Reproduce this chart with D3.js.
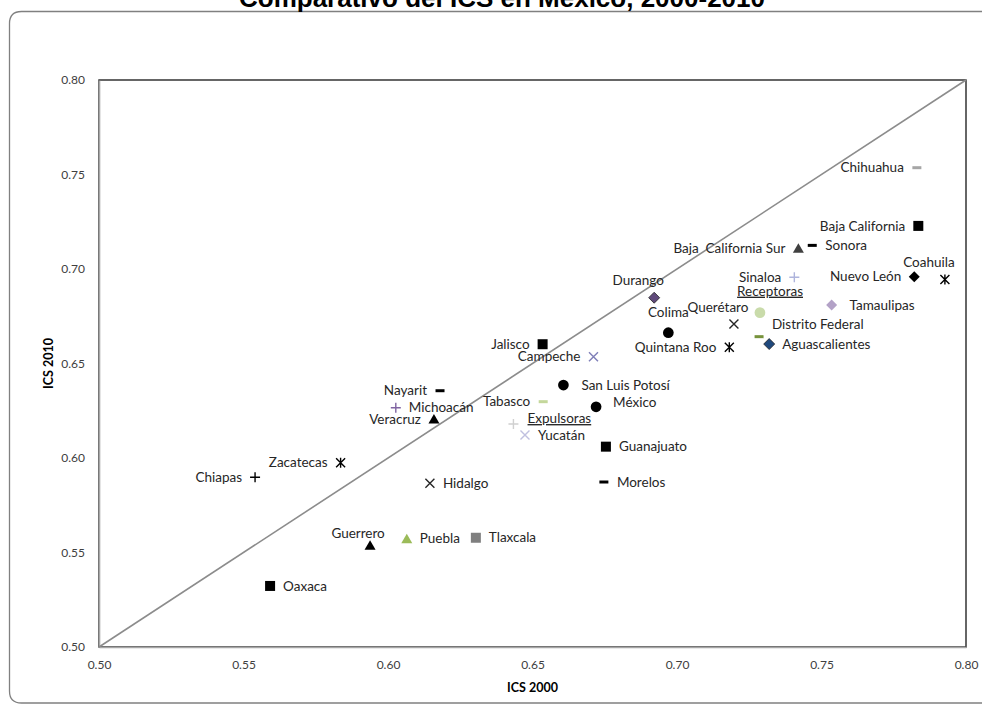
<!DOCTYPE html>
<html>
<head>
<meta charset="utf-8">
<script src="https://cdn.jsdelivr.net/npm/d3@7"></script>
<style>
  html, body { margin: 0; padding: 0; background: #fff; }
  svg { display: block; }
</style>
</head>
<body>
<div id="chart"></div>
<script>
// ---------- data ----------
const title = "Comparativo del ICS en México, 2000-2010";
const xTitle = "ICS 2000";
const yTitle = "ICS 2010";
const xTicks = [0.50, 0.55, 0.60, 0.65, 0.70, 0.75, 0.80];
const yTicks = [0.50, 0.55, 0.60, 0.65, 0.70, 0.75, 0.80];

const states = ["Chihuahua","Baja California","Baja  California Sur","Sonora","Coahuila","Nuevo León","Sinaloa","Tamaulipas",
  "Durango","Colima","Querétaro","Distrito Federal","","Quintana Roo","Aguascalientes","Jalisco","Campeche",
  "San Luis Potosí","México","Tabasco","Nayarit","Michoacán","Veracruz","","Yucatán","Guanajuato","Zacatecas",
  "Chiapas","Hidalgo","Morelos","Guerrero","Puebla","Tlaxcala","Oaxaca"];
const ics2000 = [0.7830,0.7835,0.7420,0.7468,0.7927,0.7821,0.7406,0.7535,
  0.6921,0.6970,0.7197,0.7287,0.7284,0.7181,0.7319,0.6535,0.6711,
  0.6607,0.6720,0.6537,0.6180,0.6027,0.6159,0.6434,0.6474,0.6754,0.5836,
  0.5540,0.6145,0.6747,0.5938,0.6065,0.6304,0.5592];
const ics2010 = [0.7536,0.7228,0.7110,0.7125,0.6945,0.6959,0.6956,0.6810,
  0.6848,0.6663,0.6709,0.6769,0.6642,0.6586,0.6603,0.6602,0.6536,
  0.6386,0.6271,0.6298,0.6356,0.6266,0.6206,0.6180,0.6122,0.6060,0.5975,
  0.5898,0.5866,0.5873,0.5538,0.5573,0.5578,0.5323];
const markerShapes = ["dash","square","triangle","dash","asterisk","diamond","plus","diamond",
  "diamond","circle","x","circle","dash","asterisk","diamond","square","x",
  "circle","circle","dash","dash","plus","triangle","plus","x","square","asterisk",
  "plus","x","dash","triangle","triangle","square","square"];
const markerColors = ["#a6a6a6","#000000","#404040","#000000","#000000","#000000","#aeb4dc","#b3a2c7",
  "#604a7b","#000000","#262626","#c9dbaa","#77933c","#000000","#1f497d","#000000","#7f7fb8",
  "#000000","#000000","#c4d79b","#000000","#8064a2","#000000","#d0d0d0","#c0c0e0","#000000","#000000",
  "#000000","#262626","#000000","#000000","#9bbb59","#7f7f7f","#000000"];
const labelPlacement = ["l","l","l","r","tl","l","l","r2",
  "tl","t","tl","br","","l","r","l","l",
  "r2","r2u","l","l","r","l","","r","r","l",
  "l","r","r","tls","r","r","r"];

const groupNames = ["Receptoras","Expulsoras"];
const groupX = [0.7322, 0.6593];
const groupY = [0.6884, 0.6210];

// ---------- layout ----------
const W = 982, H = 705;
const plot = {left: 99, right: 966, top: 80, bottom: 647};

const svg = d3.select("#chart").append("svg")
  .attr("width", W).attr("height", H)
  .attr("viewBox", `0 0 ${W} ${H}`);

// outer frame (rounded, extends past right edge)
const fx0 = 9.5, fy0 = 11.5, fx1 = 1000, fy1 = 703, r = 12;
svg.append("path")
  .attr("d", `M${fx1},${fy0} L${fx0 + r},${fy0} Q${fx0},${fy0} ${fx0},${fy0 + r} L${fx0},${fy1 - r} Q${fx0},${fy1} ${fx0 + r},${fy1} L${fx1},${fy1}`)
  .attr("fill", "none").attr("stroke", "#808080").attr("stroke-width", 1.3);

// title (partly cut off at the top, as in the reference)
svg.append("text")
  .attr("x", 502).attr("y", 6.5)
  .attr("text-anchor", "middle")
  .attr("font-family", "'Liberation Sans', Arial, sans-serif")
  .attr("font-weight", "bold")
  .attr("font-size", 26)
  .attr("fill", "#000")
  .text(title);

const x = d3.scaleLinear().domain([0.5, 0.8]).range([plot.left, plot.right]);
const y = d3.scaleLinear().domain([0.5, 0.8]).range([plot.bottom, plot.top]);

// plot area border
svg.append("rect")
  .attr("x", plot.left).attr("y", plot.top)
  .attr("width", plot.right - plot.left).attr("height", plot.bottom - plot.top)
  .attr("fill", "none").attr("stroke", "#262626").attr("stroke-width", 1.4);

const fontLabel = "Lato, 'Open Sans', sans-serif";

// axes
const xAxis = svg.append("g")
  .attr("transform", `translate(0,${plot.bottom})`)
  .call(d3.axisBottom(x).tickValues(xTicks).tickFormat(d3.format(".2f")).tickSize(0).tickPadding(13));
const yAxis = svg.append("g")
  .attr("transform", `translate(${plot.left},0)`)
  .call(d3.axisLeft(y).tickValues(yTicks).tickFormat(d3.format(".2f")).tickSize(0).tickPadding(14));
[xAxis, yAxis].forEach(g => {
  g.select(".domain").attr("stroke", "#a6a6a6").attr("stroke-width", 1.6);
  g.selectAll("text").attr("font-family", fontLabel).attr("font-size", 12).attr("fill", "#404040");
});

// axis titles
svg.append("text")
  .attr("x", (plot.left + plot.right) / 2).attr("y", 692)
  .attr("text-anchor", "middle")
  .attr("font-family", fontLabel).attr("font-weight", "bold").attr("font-size", 12.5)
  .attr("fill", "#000").text(xTitle);
svg.append("text")
  .attr("transform", `translate(53,${(plot.top + plot.bottom) / 2}) rotate(-90)`)
  .attr("text-anchor", "middle")
  .attr("font-family", fontLabel).attr("font-weight", "bold").attr("font-size", 12.5)
  .attr("fill", "#000").text(yTitle);

// 45-degree reference line
svg.append("line")
  .attr("x1", x(0.5)).attr("y1", y(0.5))
  .attr("x2", x(0.8)).attr("y2", y(0.8))
  .attr("stroke", "#8c8c8c").attr("stroke-width", 1.6);

// markers
const data = states.map((s, i) => ({
  name: s, x: ics2000[i], y: ics2010[i],
  shape: markerShapes[i], color: markerColors[i], pos: labelPlacement[i]
}));

function markerPath(shape) {
  switch (shape) {
    case "square": return "M-5,-5H5V5H-5Z";
    case "diamond": return "M0,-5.5L5.5,0L0,5.5L-5.5,0Z";
    case "triangle": return "M0,-5L5.5,4.5H-5.5Z";
    case "circle": return d3.symbol(d3.symbolCircle, 90)();
    case "dash": return "M-4.5,-1.5H4.5V1.5H-4.5Z";
    case "plus": return "M-5,0H5M0,-5V5";
    case "x": return "M-4.5,-4.5L4.5,4.5M-4.5,4.5L4.5,-4.5";
    case "asterisk": return "M-4.5,-4.5L4.5,4.5M-4.5,4.5L4.5,-4.5M0,-5V5";
  }
}
const strokeShapes = new Set(["plus", "x", "asterisk"]);

const pts = svg.append("g").selectAll("g.pt").data(data).join("g")
  .attr("class", "pt")
  .attr("transform", d => `translate(${x(d.x)},${y(d.y)})`);
pts.append("path")
  .attr("d", d => markerPath(d.shape))
  .attr("fill", d => strokeShapes.has(d.shape) ? "none" : d.color)
  .attr("stroke", d => strokeShapes.has(d.shape) ? d.color :
        (d.shape === "diamond" && d.color !== "#000000" && d.name !== "Tamaulipas" ? "#222" : "none"))
  .attr("stroke-width", d => strokeShapes.has(d.shape) ? 1.4 : 0.8);

// labels
const offsets = {
  l:   {dx: -13, dy: 0,   anchor: "end"},
  r:   {dx: 13,  dy: 0,   anchor: "start"},
  r2:  {dx: 18,  dy: 0,   anchor: "start"},
  r2u: {dx: 17,  dy: -5,  anchor: "start"},
  t:   {dx: 0,   dy: -20, anchor: "middle"},
  tl:  {dx: -16, dy: -17, anchor: "middle"},
  tls: {dx: -12, dy: -12, anchor: "middle"},
  br:  {dx: 12,  dy: 12,  anchor: "start"}
};
pts.filter(d => d.name !== "").append("text")
  .attr("x", d => offsets[d.pos].dx)
  .attr("y", d => offsets[d.pos].dy)
  .attr("dy", "0.35em")
  .attr("text-anchor", d => offsets[d.pos].anchor)
  .attr("font-family", fontLabel).attr("font-size", 13.5)
  .attr("fill", "#262626")
  .style("white-space", "pre")
  .text(d => d.name);

// group annotations (underlined)
svg.append("g").selectAll("text").data(groupNames).join("text")
  .attr("x", (d, i) => x(groupX[i]))
  .attr("y", (d, i) => y(groupY[i]))
  .attr("dy", "0.35em")
  .attr("text-anchor", "middle")
  .attr("font-family", fontLabel).attr("font-size", 13.5)
  .attr("fill", "#262626")
  .attr("text-decoration", "underline")
  .text(d => d);
</script>
</body>
</html>
